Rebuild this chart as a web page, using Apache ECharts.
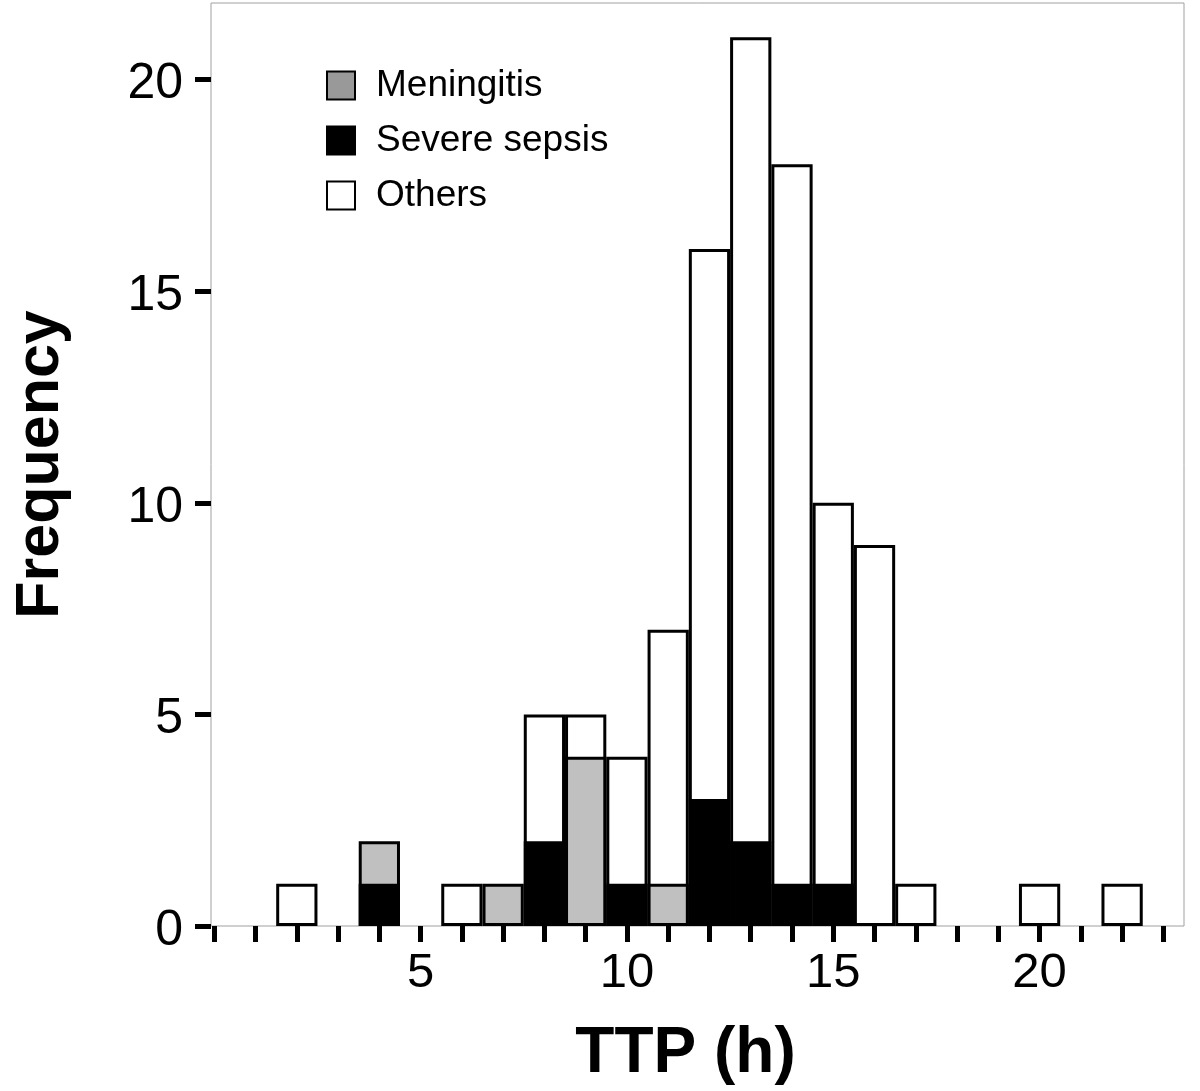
<!DOCTYPE html>
<html>
<head>
<meta charset="utf-8">
<script src="https://cdn.jsdelivr.net/npm/echarts@6/dist/echarts.min.js"></script>
<style>
html,body{margin:0;padding:0;background:#fff;}
#chart{width:1200px;height:1091px;}
</style>
</head>
<body>
<div id="chart"></div>
<script>
// bin centres (TTP, h), bin width 1
var bins = [2, 4, 6, 7, 8, 9, 10, 11, 12, 13, 14, 15, 16, 17, 20, 22];
var severeSepsis = [0, 1, 0, 0, 2, 0, 1, 0, 3, 2, 1, 1, 0, 0, 0, 0];
var meningitis   = [0, 1, 0, 1, 0, 4, 0, 1, 0, 0, 0, 0, 0, 0, 0, 0];
var others       = [1, 0, 1, 0, 3, 1, 3, 6, 13, 19, 17, 9, 9, 1, 1, 1];
var xTicks = [0,1,2,3,4,5,6,7,8,9,10,11,12,13,14,15,16,17,18,19,20,21,22,23];
var xLabels = [5, 10, 15, 20];
var yTicks = [0, 5, 10, 15, 20];

// stacked tops (drawn back-to-front, overlapping): severe at bottom, meningitis, others on top
function tops(layers, own){
  return bins.map(function(b, i){
    if (!own[i]) return [b, null];
    var s = 0;
    layers.forEach(function(arr){ s += arr[i]; });
    return [b, s];
  });
}

var FONT = 'Liberation Sans, Arial, Helvetica, sans-serif';
var chart = echarts.init(document.getElementById('chart'), null, {renderer:'canvas'});
function bar(name, color, data){
  return {
    type: 'bar', name: name, data: data,
    barWidth: '100%', barGap: '-100%',
    itemStyle: {color: color, borderColor: '#000', borderWidth: 3},
    emphasis: {disabled: true}, animation: false
  };
}
chart.setOption({
  animation: false,
  backgroundColor: '#fff',
  grid: {left: 211, top: 3, right: 16, bottom: 165, show: true, borderColor: '#a0a0a0', borderWidth: 1, containLabel: false},
  legend: {
    orient: 'vertical', left: 326, top: 67, padding: 0,
    itemWidth: 28, itemHeight: 28, itemGap: 18,
    icon: 'rect',
    itemStyle: {borderColor: '#000', borderWidth: 2},
    textStyle: {fontFamily: FONT, fontSize: 37, color: '#000', padding: [0,0,0,16]},
    data: [
      {name: 'Meningitis', itemStyle: {color: '#999999'}},
      {name: 'Severe sepsis', itemStyle: {color: '#000000'}},
      {name: 'Others', itemStyle: {color: '#ffffff'}}
    ],
    selectedMode: false
  },
  xAxis: {
    type: 'value', min: -0.08, max: 23.5,
    name: 'TTP (h)', nameLocation: 'middle', nameGap: 96,
    nameTextStyle: {fontFamily: FONT, fontSize: 64, fontWeight: 'bold', color: '#000', padding: [0, 24, 0, 0]},
    axisLine: {show: false, onZero: false},
    splitLine: {show: false},
    axisTick: {show: true, length: 16, lineStyle: {color: '#000', width: 5}, customValues: xTicks},
    axisLabel: {fontFamily: FONT, fontSize: 49, color: '#000', margin: 23, customValues: xLabels}
  },
  yAxis: {
    type: 'value', min: 0, max: 21.81,
    name: 'Frequency', nameLocation: 'middle', nameGap: 133, nameRotate: 90,
    nameTextStyle: {fontFamily: FONT, fontSize: 61, fontWeight: 'bold', color: '#000', padding: [0, 0, 6, 0]},
    axisLine: {show: false, onZero: false},
    splitLine: {show: false},
    axisTick: {show: true, length: 16, lineStyle: {color: '#000', width: 5}, customValues: yTicks},
    axisLabel: {fontFamily: FONT, fontSize: 50, color: '#000', margin: 28, verticalAlign: 'top', lineHeight: 10, customValues: yTicks}
  },
  series: [
    bar('Others', '#ffffff', tops([severeSepsis, meningitis, others], others)),
    bar('Meningitis', '#c0c0c0', tops([severeSepsis, meningitis], meningitis)),
    bar('Severe sepsis', '#000000', tops([severeSepsis], severeSepsis))
  ]
});
</script>
</body>
</html>
